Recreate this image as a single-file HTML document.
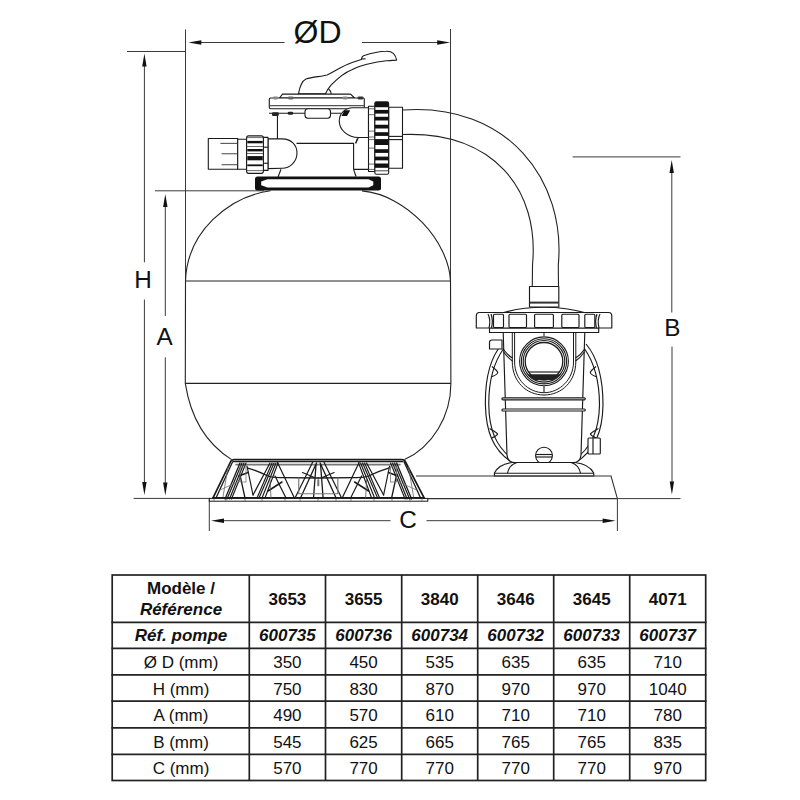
<!DOCTYPE html>
<html><head><meta charset="utf-8">
<style>
html,body{margin:0;padding:0;background:#fff;width:800px;height:800px;overflow:hidden}
svg{position:absolute;left:0;top:0;display:block}
text{font-family:"Liberation Sans",sans-serif;fill:#111}
</style></head><body>
<svg width="800" height="800" viewBox="0 0 800 800">
<!-- ===== TABLE ===== -->
<g id="table">
<g stroke="#222" stroke-width="1.7" fill="none">
<rect x="112.2" y="575" width="593.5" height="205.5"/>
<line x1="111.4" y1="622.3" x2="706.5" y2="622.3"/>
<line x1="111.4" y1="648.3" x2="706.5" y2="648.3"/>
<line x1="111.4" y1="674.9" x2="706.5" y2="674.9"/>
<line x1="111.4" y1="701.2" x2="706.5" y2="701.2"/>
<line x1="111.4" y1="727.9" x2="706.5" y2="727.9"/>
<line x1="111.4" y1="754.3" x2="706.5" y2="754.3"/>
<line x1="249.3" y1="575" x2="249.3" y2="780.5"/>
<line x1="325.5" y1="575" x2="325.5" y2="780.5"/>
<line x1="401.7" y1="575" x2="401.7" y2="780.5"/>
<line x1="477.7" y1="575" x2="477.7" y2="780.5"/>
<line x1="553.7" y1="575" x2="553.7" y2="780.5"/>
<line x1="629.7" y1="575" x2="629.7" y2="780.5"/>
</g>
<g text-anchor="middle" font-size="17">
<text x="181" y="594.2" font-weight="bold">Modèle /</text>
<text x="181" y="614.5" font-weight="bold" font-style="italic">Référence</text>
<g font-weight="bold">
<text x="287.4" y="604.5">3653</text>
<text x="363.6" y="604.5">3655</text>
<text x="439.7" y="604.5">3840</text>
<text x="515.7" y="604.5">3646</text>
<text x="591.7" y="604.5">3645</text>
<text x="667.7" y="604.5">4071</text>
</g>
<g font-weight="bold" font-style="italic">
<text x="181" y="641">Réf. pompe</text>
<text x="287.4" y="641">600735</text>
<text x="363.6" y="641">600736</text>
<text x="439.7" y="641">600734</text>
<text x="515.7" y="641">600732</text>
<text x="591.7" y="641">600733</text>
<text x="667.7" y="641">600737</text>
</g>
<g>
<text x="181" y="667.5">Ø D (mm)</text>
<text x="287.4" y="667.5">350</text><text x="363.6" y="667.5">450</text><text x="439.7" y="667.5">535</text><text x="515.7" y="667.5">635</text><text x="591.7" y="667.5">635</text><text x="667.7" y="667.5">710</text>
<text x="181" y="694.5">H (mm)</text>
<text x="287.4" y="694.5">750</text><text x="363.6" y="694.5">830</text><text x="439.7" y="694.5">870</text><text x="515.7" y="694.5">970</text><text x="591.7" y="694.5">970</text><text x="667.7" y="694.5">1040</text>
<text x="181" y="721">A (mm)</text>
<text x="287.4" y="721">490</text><text x="363.6" y="721">570</text><text x="439.7" y="721">610</text><text x="515.7" y="721">710</text><text x="591.7" y="721">710</text><text x="667.7" y="721">780</text>
<text x="181" y="747.5">B (mm)</text>
<text x="287.4" y="747.5">545</text><text x="363.6" y="747.5">625</text><text x="439.7" y="747.5">665</text><text x="515.7" y="747.5">765</text><text x="591.7" y="747.5">765</text><text x="667.7" y="747.5">835</text>
<text x="181" y="773.5">C (mm)</text>
<text x="287.4" y="773.5">570</text><text x="363.6" y="773.5">770</text><text x="439.7" y="773.5">770</text><text x="515.7" y="773.5">770</text><text x="591.7" y="773.5">770</text><text x="667.7" y="773.5">970</text>
</g>
</g>
</g>
<!-- DRAWING -->
<g id="dims" stroke="#3a3a3a" stroke-width="1" fill="none">
<!-- OD -->
<line x1="185.5" y1="29.5" x2="185.5" y2="280"/>
<line x1="450.5" y1="29" x2="450.5" y2="280"/>
<line x1="195" y1="42.5" x2="284.5" y2="42.5"/>
<line x1="362" y1="42.5" x2="443" y2="42.5"/>
<!-- H -->
<line x1="127" y1="51.5" x2="185.5" y2="51.5"/>
<line x1="144.4" y1="62" x2="144.4" y2="262.3"/>
<line x1="144.4" y1="299.5" x2="144.4" y2="486"/>
<!-- A -->
<line x1="155" y1="190.8" x2="264" y2="190.8"/>
<line x1="165.3" y1="203" x2="165.3" y2="316"/>
<line x1="165.3" y1="357.3" x2="165.3" y2="486"/>
<!-- base line left -->
<line x1="133.6" y1="498.4" x2="209.3" y2="498.4"/>
<!-- C -->
<line x1="209.3" y1="499" x2="209.3" y2="531"/>
<line x1="617.4" y1="498.6" x2="617.4" y2="531"/>
<line x1="220" y1="520.7" x2="390.5" y2="520.7"/>
<line x1="426.5" y1="520.7" x2="607" y2="520.7"/>
<!-- B -->
<line x1="572.6" y1="156.9" x2="680.5" y2="156.9"/>
<line x1="671.8" y1="170" x2="671.8" y2="312.5"/>
<line x1="672" y1="346.5" x2="672" y2="485"/>
<line x1="617.4" y1="498.6" x2="680.5" y2="498.6"/>
</g>
<g id="arrows" fill="#111" stroke="none">
<path d="M188.3 42.5 L201.3 40.3 L201.3 44.7 Z"/>
<path d="M450.2 42.5 L437.2 40.3 L437.2 44.7 Z"/>
<path d="M144.4 53.6 L142.2 66.6 L146.6 66.6 Z"/>
<path d="M144.4 495 L142.2 482 L146.6 482 Z"/>
<path d="M165.3 194 L163.1 207 L167.5 207 Z"/>
<path d="M165.3 495.6 L163.1 482.6 L167.5 482.6 Z"/>
<path d="M211 520.7 L224 518.5 L224 522.9 Z"/>
<path d="M615.6 520.7 L602.6 518.5 L602.6 522.9 Z"/>
<path d="M671.7 160 L669.5 173 L673.9 173 Z"/>
<path d="M671.9 494.4 L669.7 481.4 L674.1 481.4 Z"/>
</g>
<g id="labels" font-size="24.3" text-anchor="middle">
<text x="317.6" y="43.3" font-size="32">ØD</text>
<text x="143.1" y="288.2">H</text>
<text x="164.6" y="344.8">A</text>
<text x="672.4" y="336">B</text>
<text x="408.1" y="527.9">C</text>
</g>
<!-- TANK -->
<g id="tank" stroke="#222" stroke-width="1.1" fill="none">
<path d="M270.5 190.75 C229.1 196.6 187 231.4 185.5 281 L185.3 383.4 C190.9 419.7 207 444.1 231.6 459.6"/>
<path d="M362 190.9 C406.9 194.9 448.9 241.75 450.5 281 L450.9 383.4 C450.8 416.2 432.5 446.6 404.5 459.6"/>
<line x1="185.5" y1="281" x2="450.5" y2="281"/>
<line x1="185.3" y1="383.4" x2="450.9" y2="383.4"/>
</g>
<!-- VALVE -->
<g id="valve" stroke="#1a1a1a" stroke-width="1.1" fill="#fff" stroke-linejoin="round">
<!-- handle -->
<path d="M298.5 93.8 C299.5 88 302 81 306 79 C312 77 322 76.5 327.1 75 C331 73.5 338 68.5 347.8 64.25 C353 62 358 60.5 361.5 59.4 C361.5 57.5 362 56.5 363.5 55.8 C370 53.5 380 51.2 386.3 51.2 C392 51 395.5 54 396.6 60.1 C392 60.5 388 60.8 386.3 60.8 C378 61.5 372 63 367 64.25 C360 66 356 67.5 351.9 69.75 C346 72 340 76 331.25 84.9 C328.5 88 326.5 91 325.5 93.8 Z"/>
<path d="M361.5 58.9 L365.6 58.9" fill="none"/>
<path d="M328.6 89 C330.3 90.5 331 92 331.3 93.8" fill="none"/>
<!-- top plate -->
<path d="M279.5 98 L282.5 94.1 L350.6 94.1 L354.5 98 Z"/>
<rect x="269.3" y="98" width="95" height="10.8" rx="1.2"/>
<line x1="269.8" y1="105.6" x2="364" y2="105.6" stroke="#555" stroke-width="1.3"/>
<!-- body -->
<path d="M296.5 143.4 L353.6 143.4 L353.6 169.4 L356 176.5 M353.6 169.4 L368.5 169.4 M357.3 138.6 L355.7 143.4" fill="none"/>
<line x1="269" y1="113.2" x2="341" y2="113.2" fill="none"/>
<rect x="305" y="108.8" width="25.5" height="9.4" rx="3"/>
<!-- right elbow -->
<path d="M368.5 107.75 L352 107.75 C344 108.5 339.25 114 339.25 121 C339.25 130 348 137.5 358.4 137.5 L368.5 137.5 Z"/>
<path d="M341.5 116 L344.5 110.2 L350.2 110.2 L347 116 Z" fill="#111" stroke="none"/>
<path d="M358.4 137.5 L355.7 143.35" fill="none"/>
<!-- lugs -->
<g fill="#222" stroke="none">
<rect x="272.7" y="96.6" width="5.4" height="2.8" rx="1.4" fill="#888"/>
<rect x="287.7" y="96.6" width="6" height="2.8" rx="1.4" fill="#666"/>
<rect x="342.5" y="96.6" width="5.3" height="2.8" rx="1.4" fill="#888"/>
<rect x="357.5" y="96.6" width="6" height="2.8" rx="1.4" fill="#333"/>
<rect x="272" y="112.2" width="6.8" height="3.8" rx="1.2"/>
<rect x="287.7" y="111.8" width="5.5" height="3" rx="1.4"/>
</g>
<!-- left port -->
<rect x="208.3" y="138.55" width="29.4" height="30.65"/>
<g stroke="#555" fill="none">
<line x1="220.4" y1="143.4" x2="237.7" y2="143.4"/>
<line x1="221.6" y1="153.75" x2="237.7" y2="153.75"/>
<line x1="221.6" y1="164.7" x2="237.7" y2="164.7"/>
</g>
<rect x="237.7" y="139.3" width="8.9" height="29.9"/>
<path d="M268 138.9 L282.2 138.9 C291 138.9 297 145 297 153 C297 161.5 290 168.3 282.2 168.3 L268 168.6 Z"/>
<line x1="277.45" y1="116" x2="277.45" y2="138.9" fill="none"/>
<path d="M281 169.2 L278 177" fill="none"/>
<rect x="263.4" y="137.4" width="4.6" height="33"/>
<line x1="263.4" y1="147.2" x2="268" y2="147.2" fill="none"/>
<line x1="263.4" y1="163.25" x2="268" y2="163.25" fill="none"/>
<rect x="246.6" y="135.9" width="16.8" height="37.45" rx="2"/>
<g fill="#111" stroke="none">
<rect x="247.3" y="140.9" width="15.4" height="2.4"/>
<rect x="247.3" y="149" width="15.4" height="2.4"/>
<rect x="247.3" y="156.1" width="15.4" height="4.2"/>
<rect x="247.3" y="164.4" width="15.4" height="1.8"/>
</g>
<g stroke="#444" fill="none" stroke-width="0.8">
<line x1="247" y1="137.6" x2="263" y2="137.6"/>
<line x1="247" y1="146.5" x2="263" y2="146.5"/>
<line x1="247" y1="153.5" x2="263" y2="153.5"/>
<line x1="247" y1="170.6" x2="263" y2="170.6"/>
</g>
<!-- right port -->
<rect x="368.5" y="106.2" width="6.35" height="65.3"/>
<g stroke="#444" fill="none" stroke-width="0.8">
<line x1="368.5" y1="108.8" x2="374.85" y2="108.8"/>
<line x1="368.5" y1="114.7" x2="374.85" y2="114.7"/>
<line x1="368.5" y1="131.1" x2="374.85" y2="131.1"/>
<line x1="368.5" y1="137" x2="374.85" y2="137"/>
<line x1="368.5" y1="139.6" x2="374.85" y2="139.6"/>
<line x1="368.5" y1="148.1" x2="374.85" y2="148.1"/>
<line x1="368.5" y1="164.1" x2="374.85" y2="164.1"/>
<line x1="368.5" y1="169.4" x2="374.85" y2="169.4"/>
</g>
<rect x="388.65" y="107.2" width="13.85" height="61.1"/>
<line x1="388.65" y1="136.4" x2="402.5" y2="136.4" fill="none"/>
<line x1="388.65" y1="139.6" x2="402.5" y2="139.6" fill="none"/>
<rect x="374.85" y="101.9" width="13.8" height="72.3" rx="1.5"/>
<g fill="#111" stroke="none">
<rect x="374.85" y="101.9" width="13.8" height="5.3" rx="1.2"/>
<rect x="374.85" y="109.9" width="13.8" height="3.7"/>
<rect x="374.85" y="116.8" width="13.8" height="3.7"/>
<rect x="374.85" y="124.75" width="13.8" height="3.75"/>
<rect x="374.85" y="132.2" width="13.8" height="3.7"/>
<rect x="374.85" y="139.1" width="13.8" height="5.9"/>
<rect x="374.85" y="149.2" width="13.8" height="3.7"/>
<rect x="374.85" y="156.6" width="13.8" height="3.75"/>
<rect x="374.85" y="163.5" width="13.8" height="4.3"/>
</g>
<line x1="375" y1="170.8" x2="388.5" y2="170.8" fill="none" stroke-width="0.8"/>
<!-- collar -->
<rect x="255" y="176.5" width="126" height="14" rx="2.5" fill="#111" stroke="none"/>
<path d="M261.2 181.6 L267.5 179.3 L368.5 179.3 L373.3 181.6 L373.3 185.2 L368.5 187.6 L267.5 187.6 L261.2 185.2 Z" fill="#fff" stroke="none"/>
</g>
<!-- HOSE -->
<g id="hose" stroke="#222" stroke-width="1.1" fill="none">
<path d="M402.5 110 C508 102.5 566.2 180.7 558.3 265 L558.5 286.5"/>
<path d="M402.5 134.5 C493.3 131 539.7 189.4 532.5 265 L532.3 286.5"/>
</g>
<!-- STAND -->
<g id="stand" fill="none" stroke="#1a1a1a" stroke-linecap="round">
<rect x="209.3" y="498.4" width="218.5" height="2.8" fill="#fff" stroke-width="1"/>
<g stroke-width="0.7" stroke="#555">
<line x1="214" y1="498.6" x2="214" y2="501"/><line x1="226" y1="498.6" x2="226" y2="501"/><line x1="245" y1="498.6" x2="245" y2="501"/><line x1="262" y1="498.6" x2="262" y2="501"/><line x1="285" y1="498.6" x2="285" y2="501"/><line x1="300" y1="498.6" x2="300" y2="501"/><line x1="318" y1="498.6" x2="318" y2="501"/><line x1="336" y1="498.6" x2="336" y2="501"/><line x1="351" y1="498.6" x2="351" y2="501"/><line x1="374" y1="498.6" x2="374" y2="501"/><line x1="392" y1="498.6" x2="392" y2="501"/><line x1="410" y1="498.6" x2="410" y2="501"/><line x1="422" y1="498.6" x2="422" y2="501"/>
</g>
<line x1="213" y1="497.8" x2="424" y2="497.8" stroke-width="1.6"/>
<path d="M212.9 498.2 L231 461 Q232 459.6 234 459.6 L402 459.6 Q404 459.6 405 461 L424.25 498.2" stroke-width="1.7"/>
<line x1="233" y1="461.6" x2="403" y2="461.6" stroke-width="1.1"/>
<line x1="236" y1="464.6" x2="400" y2="464.6" stroke-width="1.6" stroke="#777"/>
<g stroke-width="1.3">
<line x1="232.5" y1="462" x2="216" y2="498"/>
<line x1="228" y1="467" x2="223" y2="497" stroke="#666" stroke-width="0.8"/>
<line x1="240" y1="463" x2="225" y2="499" stroke-width="1.3"/>
<line x1="242" y1="463" x2="227" y2="499" stroke-width="1.2"/>
<line x1="244" y1="463" x2="229.5" y2="499" stroke-width="1.2"/>
<line x1="246" y1="463" x2="231.5" y2="499" stroke-width="1.15"/>
<line x1="240" y1="475" x2="245" y2="498" stroke-width="1.3"/>
<line x1="239" y1="476" x2="248" y2="472.5" stroke-width="1.6"/>
<rect x="240" y="467" width="6" height="15" stroke="#777" stroke-width="0.8"/>
<line x1="220" y1="490" x2="240" y2="481" stroke="#777" stroke-width="0.8"/>
<path d="M248 468 C255 470 262 473 268 476 C272 477.5 276 477.8 282 477.6 L318.3 478" stroke-width="1.3"/>
<line x1="247" y1="466" x2="253" y2="495" stroke-width="1.2"/>
<line x1="253" y1="495" x2="270" y2="463" stroke-width="1.2"/>
<line x1="257" y1="498" x2="272" y2="463" stroke-width="1.15"/>
<line x1="259" y1="498" x2="274" y2="463" stroke-width="1.15"/>
<line x1="262" y1="498" x2="276" y2="463" stroke-width="1.15"/>
<line x1="265" y1="498" x2="278" y2="463" stroke-width="1.15"/>
<line x1="277.5" y1="462.5" x2="294.4" y2="498.1" stroke-width="1.2"/>
<line x1="275" y1="476" x2="286" y2="498" stroke-width="1.2"/>
<line x1="268" y1="491" x2="282" y2="482" stroke-width="1.5"/>
<line x1="270" y1="480" x2="271" y2="498" stroke-width="0.8" stroke="#555"/>
<line x1="312.5" y1="462.5" x2="295" y2="498.1" stroke-width="1.2"/>
<line x1="316.5" y1="463" x2="300.5" y2="498.1" stroke-width="1.3"/>
<line x1="316" y1="465" x2="313.5" y2="498.1" stroke-width="1.3"/>
<line x1="302.5" y1="472.5" x2="314.4" y2="477.5" stroke-width="1.2"/>
<path d="M298.75 478 L298.75 493.75 L318.3 493.75" stroke="#777" stroke-width="1.15"/>
<line x1="318" y1="480" x2="318" y2="485.6" stroke="#777" stroke-width="1.4"/>
</g>
<g stroke-width="1.3" transform="translate(636.6 0) scale(-1 1)">
<line x1="232.5" y1="462" x2="216" y2="498"/>
<line x1="228" y1="467" x2="223" y2="497" stroke="#666" stroke-width="0.8"/>
<line x1="240" y1="463" x2="225" y2="499" stroke-width="1.3"/>
<line x1="242" y1="463" x2="227" y2="499" stroke-width="1.2"/>
<line x1="244" y1="463" x2="229.5" y2="499" stroke-width="1.2"/>
<line x1="246" y1="463" x2="231.5" y2="499" stroke-width="1.15"/>
<line x1="240" y1="475" x2="245" y2="498" stroke-width="1.3"/>
<line x1="239" y1="476" x2="248" y2="472.5" stroke-width="1.6"/>
<rect x="240" y="467" width="6" height="15" stroke="#777" stroke-width="0.8"/>
<line x1="220" y1="490" x2="240" y2="481" stroke="#777" stroke-width="0.8"/>
<path d="M248 468 C255 470 262 473 268 476 C272 477.5 276 477.8 282 477.6 L318.3 478" stroke-width="1.3"/>
<line x1="247" y1="466" x2="253" y2="495" stroke-width="1.2"/>
<line x1="253" y1="495" x2="270" y2="463" stroke-width="1.2"/>
<line x1="257" y1="498" x2="272" y2="463" stroke-width="1.15"/>
<line x1="259" y1="498" x2="274" y2="463" stroke-width="1.15"/>
<line x1="262" y1="498" x2="276" y2="463" stroke-width="1.15"/>
<line x1="265" y1="498" x2="278" y2="463" stroke-width="1.15"/>
<line x1="277.5" y1="462.5" x2="294.4" y2="498.1" stroke-width="1.2"/>
<line x1="275" y1="476" x2="286" y2="498" stroke-width="1.2"/>
<line x1="268" y1="491" x2="282" y2="482" stroke-width="1.5"/>
<line x1="270" y1="480" x2="271" y2="498" stroke-width="0.8" stroke="#555"/>
<line x1="312.5" y1="462.5" x2="295" y2="498.1" stroke-width="1.2"/>
<line x1="316.5" y1="463" x2="300.5" y2="498.1" stroke-width="1.3"/>
<line x1="316" y1="465" x2="313.5" y2="498.1" stroke-width="1.3"/>
<line x1="302.5" y1="472.5" x2="314.4" y2="477.5" stroke-width="1.2"/>
<path d="M298.75 478 L298.75 493.75 L318.3 493.75" stroke="#777" stroke-width="1.15"/>
<line x1="318" y1="480" x2="318" y2="485.6" stroke="#777" stroke-width="1.4"/>
</g>
</g>
<!-- PUMP -->
<g id="pump" stroke="#1a1a1a" stroke-width="1.15" fill="#fff" stroke-linejoin="round">
<!-- motor side ovals -->
<path d="M502 344 C490 358 485 380 485.4 405 C486 430 492 450 513 463" fill="none"/>
<path d="M504 348 C494 362 488.5 382 488.8 405 C489 428 495 447 515 461" fill="none"/>
<path d="M586 344 C598 358 603 380 603 405 C602.5 430 596 450 575 463" fill="none"/>
<path d="M584 348 C594 362 599.5 382 599.5 405 C599 428 593 447 573 461" fill="none"/>
<path d="M492 366.5 C495 369 497.5 371 497.8 372.5 C497.5 374 495 375.5 491 377" fill="none"/>
<path d="M489.6 428.5 C493 430.5 497 432.5 497.6 434 C497 435.5 494 437 491.8 438" fill="none"/>
<path d="M596 366.5 C593 369 590.5 371 590.2 372.5 C590.5 374 593 375.5 597 377" fill="none"/>
<path d="M598.4 428.5 C595 430.5 591 432.5 590.4 434 C591 435.5 594 437 596.2 438" fill="none"/>
<!-- left mount block -->
<path d="M489.5 349 L489.5 342.5 Q489.5 340 492 340 L502 340 L502 349 Z"/>
<!-- right box -->
<rect x="588" y="438" width="12.3" height="16" rx="1"/>
<line x1="593" y1="438" x2="593" y2="454"/>
<!-- body -->
<path d="M503.2 332.5 L507 455 Q507.6 462.6 515 462.6 L573 462.6 Q580.4 462.6 581 455 L584.8 332.5 Z"/>
<path d="M503.2 349 C506 353 509 356 512.5 358" fill="none"/>
<path d="M503.6 352 C506.5 356 509.5 359 512.5 361" fill="none"/>
<path d="M584.8 349 C582 353 579 356 575.5 358" fill="none"/>
<path d="M584.4 352 C581.5 356 578.5 359 575.5 361" fill="none"/>
<!-- U housing -->
<path d="M512.3 332.5 L512.3 362 C512.3 381 526 395 544 395 C562 395 575.8 381 575.8 362 L575.8 332.5" fill="none" stroke-width="1"/>
<path d="M514.6 332.5 L514.6 362 C514.6 379 528 392.7 544 392.7 C560 392.7 573.5 379 573.5 362 L573.5 332.5" fill="none" stroke-width="1"/>
<!-- port rings -->
<circle cx="544" cy="361.3" r="24.4" stroke-width="1.1"/>
<circle cx="544" cy="361.3" r="22.6" fill="none" stroke-width="1.1"/>
<circle cx="544" cy="361.3" r="20.8" fill="none" stroke-width="1.1"/>
<circle cx="544" cy="361.3" r="18.8" fill="#fff" stroke-width="1.3"/>
<path d="M528.4 372 L559.6 372" fill="none"/>
<path d="M526.9 374.3 L561.1 374.3 C559 377 556 379 553 380 L535 380 C532 379 529 377 526.9 374.3 Z" fill="#222" stroke="none"/>
<line x1="544" y1="333" x2="544" y2="337" stroke-width="1.5" stroke="#666"/>
<line x1="544" y1="385.5" x2="544" y2="392" stroke-width="1.5" stroke="#555"/>
<!-- bands -->
<rect x="501.9" y="397.8" width="83.4" height="2" rx="1"/>
<rect x="501.9" y="409" width="83.4" height="2" rx="1"/>
<!-- drain plug -->
<circle cx="544" cy="455.6" r="8.4"/>
<line x1="535.8" y1="454.5" x2="552.2" y2="454.5"/>
<line x1="535.8" y1="457" x2="552.2" y2="457"/>
<!-- foot -->
<path d="M494.4 476 L494.4 473 C497 468 503 463.5 513 462.5 L575 462.5 C585 463.5 591 468 593.75 473 L593.75 476 Z"/>
<path d="M507.5 473.2 C508.5 468 512 464 517 462.5" fill="none"/>
<path d="M580.5 473.2 C579.5 468 576 464 571 462.5" fill="none"/>
<line x1="494.4" y1="473.2" x2="593.75" y2="473.2"/>
<!-- lid -->
<path d="M502.8 312.8 C515 309 530 307.2 544 307.2 C558 307.2 573 309 585.2 312.8" fill="none"/>
<path d="M489.5 328 L489.5 332.5 L598.7 332.5 L598.7 328 Z"/>
<path d="M479.5 312.5 L608.6 312.5 Q611.8 312.5 611.8 316 L611.8 328 L476.3 328 L476.3 316 Q476.3 312.5 479.5 312.5 Z"/>
<path d="M488 314 C490 318 490 324 489 328" fill="none"/>
<path d="M491 314 C492.5 318 492.5 324 491.5 328" fill="none"/>
<path d="M600 314 C598 318 598 324 599 328" fill="none"/>
<path d="M597 314 C595.5 318 595.5 324 596.5 328" fill="none"/>
<rect x="493.5" y="314.2" width="10" height="13.3" rx="1"/>
<rect x="509" y="314.2" width="17.5" height="13.3" rx="1"/>
<rect x="534.6" y="314.2" width="18.8" height="13.3" rx="1"/>
<rect x="561.8" y="314.2" width="17.2" height="13.3" rx="1"/>
<rect x="584.8" y="314.2" width="10" height="13.3" rx="1"/>
<!-- coupling -->
<rect x="529.5" y="286.5" width="29.3" height="20.5"/>
<rect x="529.7" y="301.6" width="29" height="2" fill="#333" stroke="none"/>
</g>
<!-- BASE PLATFORM -->
<g id="platform" stroke="#333" stroke-width="1.1" fill="none">
<path d="M416 476 L611 476 L617.4 498.6"/>
<line x1="427.8" y1="498.6" x2="617.4" y2="498.6"/>
</g>

</svg>
</body></html>
